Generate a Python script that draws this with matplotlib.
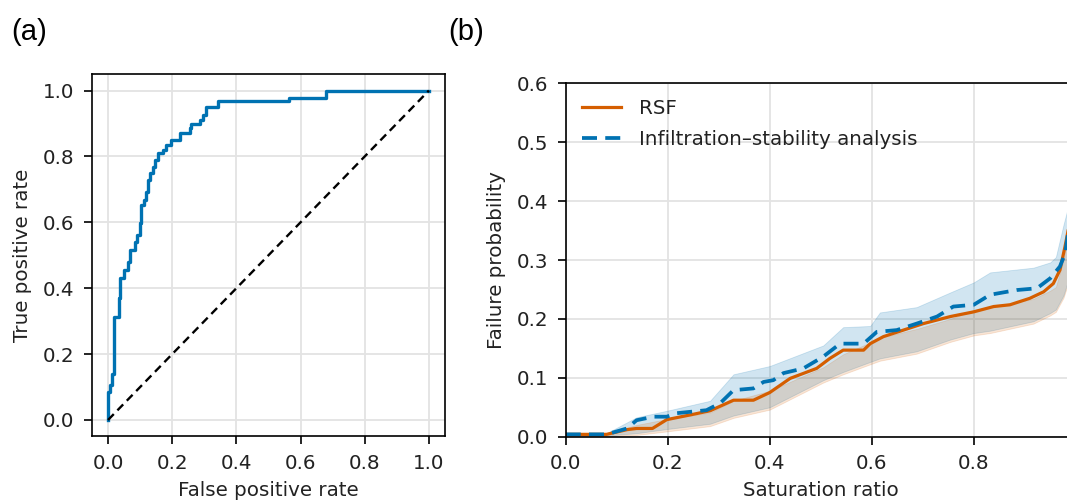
import matplotlib
matplotlib.use('Agg')
import matplotlib.pyplot as plt

# (a) ROC curve: corner points of the staircase
fpr = [0.0, 0.0, 0.007, 0.011, 0.018, 0.034, 0.038, 0.049, 0.062, 0.067,
       0.083, 0.090, 0.099, 0.104, 0.111, 0.119, 0.125, 0.132, 0.140, 0.146,
       0.156, 0.171, 0.182, 0.197, 0.223, 0.254, 0.260, 0.286, 0.296, 0.306,
       0.343, 0.564, 0.680, 1.0]
tpr = [0.0, 0.086, 0.106, 0.140, 0.314, 0.370, 0.430, 0.455, 0.480, 0.516,
       0.541, 0.562, 0.597, 0.653, 0.668, 0.693, 0.729, 0.749, 0.769, 0.790,
       0.810, 0.820, 0.835, 0.850, 0.870, 0.886, 0.900, 0.910, 0.927, 0.950,
       0.967, 0.977, 1.0, 1.0]

# (b) failure probability vs saturation ratio
rsf_x = [0.0, 0.08, 0.12, 0.139, 0.17, 0.198, 0.244, 0.283, 0.329, 0.368,
         0.40, 0.44, 0.492, 0.518, 0.544, 0.584, 0.597, 0.623, 0.662, 0.701,
         0.754, 0.80, 0.839, 0.871, 0.91, 0.937, 0.956, 0.969, 0.979, 0.985]
rsf_y = [0.004, 0.004, 0.012, 0.014, 0.014, 0.029, 0.037, 0.044, 0.062, 0.062,
         0.075, 0.099, 0.116, 0.133, 0.147, 0.147, 0.158, 0.170, 0.181, 0.192,
         0.204, 0.212, 0.221, 0.224, 0.235, 0.246, 0.260, 0.283, 0.323, 0.350]

isa_x = [0.0, 0.08, 0.12, 0.139, 0.172, 0.198, 0.218, 0.276, 0.303, 0.329,
         0.368, 0.388, 0.407, 0.427, 0.466, 0.505, 0.538, 0.584, 0.61, 0.649,
         0.688, 0.728, 0.76, 0.80, 0.832, 0.884, 0.924, 0.95, 0.969, 0.979, 0.985]
isa_y = [0.004, 0.004, 0.014, 0.028, 0.034, 0.034, 0.040, 0.045, 0.057, 0.079,
         0.082, 0.093, 0.096, 0.108, 0.116, 0.136, 0.158, 0.158, 0.178, 0.181,
         0.192, 0.204, 0.221, 0.224, 0.241, 0.249, 0.252, 0.269, 0.289, 0.311, 0.345]

# confidence bands
band_x = [0.0, 0.08, 0.139, 0.198, 0.283, 0.329, 0.40, 0.505, 0.544, 0.597,
          0.616, 0.688, 0.754, 0.80, 0.832, 0.917, 0.95, 0.961, 0.976, 0.985]
isa_hi = [0.006, 0.006, 0.033, 0.044, 0.061, 0.106, 0.120, 0.155, 0.186, 0.188,
          0.211, 0.220, 0.245, 0.262, 0.279, 0.287, 0.296, 0.305, 0.360, 0.390]
isa_lo = [0.002, 0.002, 0.006, 0.013, 0.022, 0.036, 0.050, 0.096, 0.110, 0.127,
          0.133, 0.145, 0.165, 0.176, 0.180, 0.196, 0.210, 0.216, 0.240, 0.265]
rsf_hi = [0.006, 0.006, 0.020, 0.030, 0.041, 0.061, 0.078, 0.118, 0.140, 0.160,
          0.168, 0.183, 0.200, 0.215, 0.220, 0.234, 0.248, 0.254, 0.300, 0.345]
rsf_lo = [0.001, 0.001, 0.003, 0.009, 0.018, 0.032, 0.046, 0.092, 0.106, 0.123,
          0.129, 0.141, 0.161, 0.172, 0.176, 0.192, 0.206, 0.212, 0.236, 0.260]

blue = '#0072B2'
orange = '#D55E00'
text_c = '#222222'

plt.rcParams['font.family'] = 'DejaVu Sans'
plt.rcParams['font.size'] = 14.3

fig = plt.figure(figsize=(10.67, 5.04), dpi=100)

tick_kw = dict(length=5.5, width=1.2, pad=7, labelcolor=text_c)

# (a) ROC
ax1 = fig.add_axes([0.0862, 0.134, 0.3308, 0.719])
ax1.grid(color='#e3e3e3', linewidth=1.3)
ax1.set_axisbelow(True)
ax1.plot(fpr, tpr, drawstyle='steps-post', color=blue, lw=2.4)
ax1.plot([0, 1], [0, 1], '--', color='black', lw=1.7, dashes=(3.5, 2.2))
ax1.set_xticks([0, 0.2, 0.4, 0.6, 0.8, 1.0])
ax1.set_yticks([0, 0.2, 0.4, 0.6, 0.8, 1.0])
ax1.set_xlabel('False positive rate', color=text_c, labelpad=6)
ax1.set_ylabel('True positive rate', color=text_c, labelpad=8)
ax1.tick_params(**tick_kw)
for s in ax1.spines.values():
    s.set_linewidth(1.2)

# (b) failure probability
ax2 = fig.add_axes([0.5302, 0.1335, 0.478, 0.7012])
ax2.grid(color='#e3e3e3', linewidth=1.3)
ax2.set_axisbelow(True)
ax2.fill_between(band_x, isa_lo, isa_hi, color=blue, alpha=0.18, lw=0.6)
ax2.fill_between(band_x, rsf_lo, rsf_hi, color=orange, alpha=0.16, lw=0.6)
ax2.plot(rsf_x, rsf_y, color=orange, lw=2.3, label='RSF')
ax2.plot(isa_x, isa_y, '--', color=blue, lw=2.7, dashes=(4, 2.2),
         label='Infiltration\u2013stability analysis')
ax2.set_xlim(0, 1)
ax2.set_ylim(0, 0.6)
ax2.set_xticks([0, 0.2, 0.4, 0.6, 0.8])
ax2.set_yticks([0, 0.1, 0.2, 0.3, 0.4, 0.5, 0.6])
ax2.set_xlabel('Saturation ratio', color=text_c, labelpad=6)
ax2.set_ylabel('Failure probability', color=text_c, labelpad=8)
ax2.tick_params(**tick_kw)
for s in ax2.spines.values():
    s.set_linewidth(1.2)
ax2.legend(loc='upper left', frameon=False, handlelength=2.0,
           borderaxespad=0.4, labelspacing=0.6, handletextpad=0.9,
           labelcolor=text_c)

# panel letters
fig.text(0.011, 0.92, '(a)', family='Liberation Sans', fontsize=21)
fig.text(0.42, 0.92, '(b)', family='Liberation Sans', fontsize=21)

fig.savefig('out.png', dpi=100)
